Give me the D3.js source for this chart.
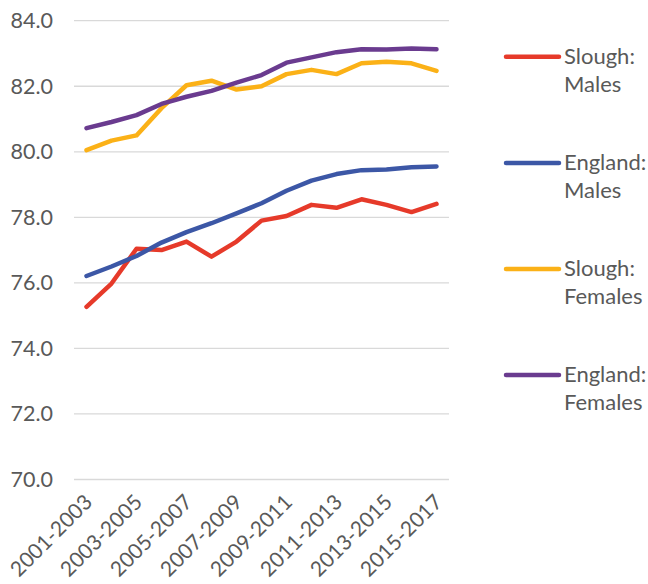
<!DOCTYPE html>
<html>
<head>
<meta charset="utf-8">
<script src="https://cdn.jsdelivr.net/npm/d3@7"></script>
<style>
  html, body { margin: 0; padding: 0; background: #fff; }
  svg { display: block; }
  text { font-family: Lato, "Open Sans", sans-serif; fill: #595959; }
</style>
</head>
<body>
<svg id="chart" width="648" height="584"></svg>
<script>
// Three-year periods
const periods = [
  "2001-2003", "2002-2004", "2003-2005", "2004-2006", "2005-2007",
  "2006-2008", "2007-2009", "2008-2010", "2009-2011", "2010-2012",
  "2011-2013", "2012-2014", "2013-2015", "2014-2016", "2015-2017"
];

// Life expectancy at birth (years)
const sloughMales = [75.27, 75.98, 77.04, 77.00, 77.26, 76.80, 77.26, 77.90, 78.04, 78.38, 78.29, 78.55, 78.38, 78.16, 78.41];
const englandMales = [76.21, 76.50, 76.82, 77.23, 77.55, 77.82, 78.12, 78.43, 78.81, 79.12, 79.32, 79.44, 79.46, 79.53, 79.55];
const sloughFemales = [80.05, 80.34, 80.50, 81.33, 82.03, 82.17, 81.90, 82.00, 82.37, 82.50, 82.37, 82.70, 82.75, 82.70, 82.47];
const englandFemales = [80.72, 80.91, 81.12, 81.46, 81.68, 81.86, 82.11, 82.34, 82.72, 82.88, 83.04, 83.13, 83.12, 83.15, 83.13];

const seriesNames = ["Slough:\nMales", "England:\nMales", "Slough:\nFemales", "England:\nFemales"];
const seriesValues = [sloughMales, englandMales, sloughFemales, englandFemales];
const seriesColors = ["#E63A2A", "#3C57A6", "#FBB117", "#6A3B8F"];

const yTicks = [70, 72, 74, 76, 78, 80, 82, 84];
const xLabels = periods.filter((d, i) => i % 2 === 0);

const svg = d3.select("#chart");
const plot = { left: 74, right: 449, top: 20.7, bottom: 479.5 };

const x = d3.scaleBand().domain(periods).range([plot.left, plot.right]);
const y = d3.scaleLinear().domain([70, 84]).range([plot.bottom, plot.top]);

// Horizontal gridlines
svg.append("g")
  .selectAll("line")
  .data(yTicks)
  .join("line")
  .attr("x1", plot.left).attr("x2", plot.right)
  .attr("y1", d => y(d)).attr("y2", d => y(d))
  .attr("stroke", "#d9d9d9").attr("stroke-width", 1.3);

// Y axis labels
const yAxis = svg.append("g")
  .attr("transform", `translate(${plot.left - 21},0)`)
  .call(d3.axisLeft(y).tickValues(yTicks).tickFormat(d3.format(".1f")).tickSize(0).tickPadding(0));
yAxis.select(".domain").remove();
yAxis.selectAll("text")
  .attr("font-size", 21.5)
  .attr("font-family", "Lato, sans-serif")
  .attr("fill", "#595959");

// X axis labels, rotated
const xAxis = svg.append("g")
  .attr("transform", `translate(0,${plot.bottom})`)
  .call(d3.axisBottom(x).tickValues(xLabels).tickSize(0).tickPadding(0));
xAxis.select(".domain").remove();
xAxis.selectAll("text")
  .attr("font-size", 21)
  .attr("font-family", "Lato, sans-serif")
  .attr("fill", "#595959")
  .attr("text-anchor", "end")
  .attr("dy", null)
  .attr("y", 0)
  .attr("transform", "translate(7,24) rotate(-45)");

// Series lines
const line = d3.line()
  .x((d, i) => x(periods[i]) + x.bandwidth() / 2)
  .y(d => y(d));

svg.append("g")
  .selectAll("path")
  .data(seriesValues)
  .join("path")
  .attr("d", d => line(d))
  .attr("fill", "none")
  .attr("stroke", (d, i) => seriesColors[i])
  .attr("stroke-width", 4.5)
  .attr("stroke-linejoin", "round")
  .attr("stroke-linecap", "round");

// Legend
const legendY = [56.7, 163, 269, 375];
const legend = svg.append("g");
seriesNames.forEach((name, i) => {
  const g = legend.append("g").attr("transform", `translate(0,${legendY[i]})`);
  g.append("line")
    .attr("x1", 506).attr("x2", 559)
    .attr("stroke", seriesColors[i])
    .attr("stroke-width", 4.5)
    .attr("stroke-linecap", "round");
  const t = g.append("text")
    .attr("x", 564)
    .attr("font-size", 22)
    .attr("font-family", "Lato, sans-serif")
    .attr("fill", "#595959");
  name.split("\n").forEach((part, j) => {
    t.append("tspan").attr("x", 564).attr("y", 7 + j * 28).text(part);
  });
});
</script>
</body>
</html>
